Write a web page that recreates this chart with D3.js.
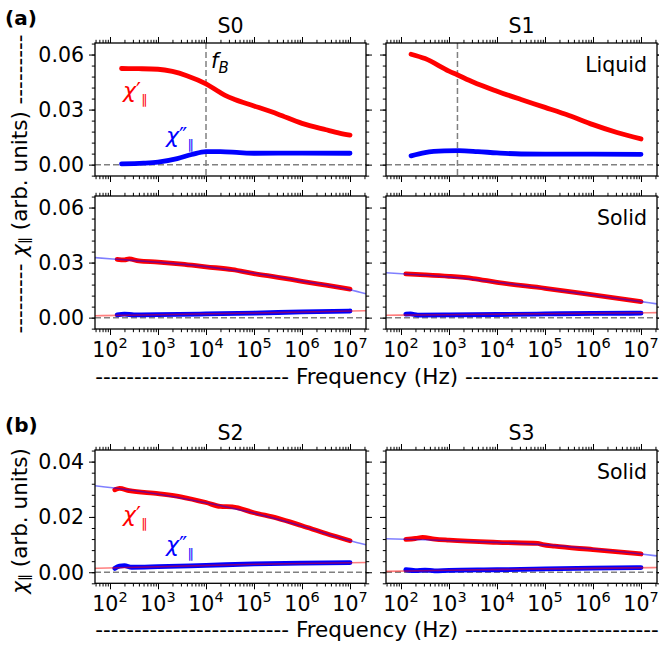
<!DOCTYPE html>
<html><head><meta charset="utf-8">
<script src="https://cdn.jsdelivr.net/npm/d3@7"></script>
<style>body{margin:0;background:#fff} text{font-family:"DejaVu Sans",sans-serif}</style>
</head><body><svg id="c" width="659" height="650"></svg>
<script>
// ---------------- DATA (frequency in Hz, chi in arb. units) ----------------
const xTickExponents = [2, 3, 4, 5, 6, 7];
const yTicksA = [0.00, 0.03, 0.06];
const yTicksB = [0.00, 0.02, 0.04];
const panelTitles = ["S0", "S1", "S2", "S3"];
const phaseLabels = ["Liquid", "Solid", "Solid"];
const fB_S0 = 1.0e4;
const fB_S1 = 1.5e3;

// S0 liquid
const s0LiqReal = [[174,0.0524],[398,0.0523],[1000,0.0520],[1995,0.0508],[3981,0.0485],[10000,0.0440],[19953,0.0392],[25000,0.0378],[39811,0.0355],[100000,0.0320],[316228,0.0275],[1000000,0.0225],[3162278,0.0190],[6000000,0.0172],[1e7,0.0161]];
const s0LiqImag = [[174,0.0004],[501,0.0008],[1000,0.0014],[2512,0.0033],[5012,0.0055],[10000,0.0071],[19953,0.0071],[50119,0.0065],[100000,0.0062],[1000000,0.0063],[1e7,0.0062]];
// S1 liquid
const s1LiqReal = [[162,0.0602],[316,0.0578],[1000,0.0510],[1479,0.0490],[3162,0.0450],[10000,0.0400],[31623,0.0355],[100000,0.0312],[316228,0.0268],[1000000,0.0218],[3162278,0.0175],[1e7,0.0140]];
const s1LiqImag = [[162,0.0048],[316,0.0066],[794,0.0075],[1585,0.0076],[3981,0.0071],[10000,0.0064],[31623,0.0058],[100000,0.0057],[1000000,0.0057],[1e7,0.0056]];
// S0 solid
const s0SolReal = [[141,0.0318],[200,0.0315],[251,0.0320],[398,0.0309],[1000,0.0303],[3162,0.0292],[10000,0.0277],[35481,0.0262],[100000,0.0240],[316228,0.0220],[1000000,0.0198],[3162278,0.0177],[1e7,0.0156]];
const s0SolImag = [[141,0.0015],[200,0.0019],[316,0.0015],[1000,0.0016],[10000,0.0020],[100000,0.0025],[1000000,0.0031],[1e7,0.0036]];
const s0SolRealFit = [[48.7,0.0327],[141,0.0318],[1000,0.0302],[10000,0.0278],[100000,0.0242],[1000000,0.0199],[1e7,0.0152],[2.15e7,0.0130]];
const s0SolImagFit = [[48.7,0.0010],[1000,0.0016],[100000,0.0025],[2.15e7,0.0038]];
// S1 solid
const s1SolReal = [[126,0.0238],[316,0.0233],[1000,0.0225],[3162,0.0213],[10000,0.0192],[100000,0.0160],[1000000,0.0124],[1e7,0.0087]];
const s1SolImag = [[126,0.0019],[158,0.0020],[224,0.0014],[1000,0.0015],[10000,0.0017],[100000,0.0020],[1000000,0.0023],[1e7,0.0024]];
const s1SolRealFit = [[48.7,0.0245],[126,0.0238],[1000,0.0222],[10000,0.0193],[100000,0.0159],[1000000,0.0123],[1e7,0.0087],[2.15e7,0.0075]];
const s1SolImagFit = [[48.7,0.0013],[1000,0.0016],[100000,0.0021],[2.15e7,0.0027]];
// S2 solid
const s2Real = [[126,0.0298],[158,0.0303],[251,0.0295],[1000,0.0284],[3162,0.0272],[10000,0.0252],[19953,0.0238],[35481,0.0236],[100000,0.0215],[316228,0.0195],[1000000,0.0168],[3162278,0.0140],[1e7,0.0114]];
const s2Imag = [[126,0.0014],[158,0.0022],[200,0.0024],[282,0.0018],[1000,0.0020],[10000,0.0025],[100000,0.0030],[1000000,0.0033],[1e7,0.0035]];
const s2RealFit = [[48.7,0.0313],[1000,0.0283],[10000,0.0251],[100000,0.0214],[1000000,0.0167],[1e7,0.0114],[2.15e7,0.0099]];
const s2ImagFit = [[48.7,0.0014],[1000,0.0020],[100000,0.0029],[2.15e7,0.0035]];
// S3 solid
const s3Real = [[126,0.0119],[200,0.0122],[282,0.0126],[501,0.0120],[1000,0.0116],[10000,0.0108],[70795,0.0104],[89125,0.0100],[158489,0.0094],[1000000,0.0082],[1e7,0.0066]];
const s3Imag = [[126,0.0009],[200,0.0006],[316,0.0008],[501,0.0005],[1000,0.0007],[10000,0.0009],[100000,0.0012],[1000000,0.0015],[1e7,0.0017]];
const s3RealFit = [[48.7,0.0121],[1000,0.0115],[10000,0.0108],[100000,0.0099],[1000000,0.0084],[1e7,0.0066],[2.15e7,0.0059]];
const s3ImagFit = [[48.7,0.0003],[1000,0.0007],[100000,0.0012],[2.15e7,0.0017]];

// ---------------- LAYOUT ----------------
const svg = d3.select("#c");
const COLS = [[95, 366], [386, 657]];
const ROWS = [[43, 176], [196, 329], [450, 583.3]];
const xDomain = [Math.pow(10, 1.6875), Math.pow(10, 7.333)];
const yDomA = [-0.0062, 0.0663];
const yDomB = [-0.004, 0.0442];
const RED = "#ff0000", BLUE = "#0000ff", GREY = "#808080";

const panels = [
  {c:0, r:0, title:panelTitles[0], real:s0LiqReal, imag:s0LiqImag, fB:fB_S0, yd:yDomA, yt:yTicksA, ystep:0.006},
  {c:1, r:0, title:panelTitles[1], real:s1LiqReal, imag:s1LiqImag, fB:fB_S1, tag:phaseLabels[0], yd:yDomA, yt:yTicksA, ystep:0.006},
  {c:0, r:1, real:s0SolReal, imag:s0SolImag, realFit:s0SolRealFit, imagFit:s0SolImagFit, yd:yDomA, yt:yTicksA, ystep:0.006, xl:true},
  {c:1, r:1, real:s1SolReal, imag:s1SolImag, realFit:s1SolRealFit, imagFit:s1SolImagFit, tag:phaseLabels[1], yd:yDomA, yt:yTicksA, ystep:0.006, xl:true},
  {c:0, r:2, title:panelTitles[2], real:s2Real, imag:s2Imag, realFit:s2RealFit, imagFit:s2ImagFit, yd:yDomB, yt:yTicksB, ystep:0.004, xl:true},
  {c:1, r:2, title:panelTitles[3], real:s3Real, imag:s3Imag, realFit:s3RealFit, imagFit:s3ImagFit, tag:phaseLabels[2], yd:yDomB, yt:yTicksB, ystep:0.004, xl:true}
];

const xMajor = xTickExponents.map(e => Math.pow(10, e));
const xMinor = [];
for (let k = 1; k <= 7; k++) for (let m = 2; m <= 9; m++) {
  const v = m * Math.pow(10, k);
  if (v >= xDomain[0] && v <= xDomain[1]) xMinor.push(v);
}

panels.forEach((p, i) => {
  const [x0, x1] = COLS[p.c], [y0, y1] = ROWS[p.r];
  const x = d3.scaleLog().domain(xDomain).range([x0, x1]);
  const y = d3.scaleLinear().domain(p.yd).range([y1, y0]);
  const g = svg.append("g");
  const clipId = "clip" + i;
  svg.append("clipPath").attr("id", clipId).append("rect")
    .attr("x", x0).attr("y", y0).attr("width", x1 - x0).attr("height", y1 - y0);
  const pg = g.append("g").attr("clip-path", `url(#${clipId})`);

  pg.append("line").attr("x1", x0).attr("x2", x1).attr("y1", y(0)).attr("y2", y(0))
    .attr("stroke", GREY).attr("stroke-width", 1.5).attr("stroke-dasharray", "6,3");
  if (p.fB) {
    pg.append("line").attr("x1", x(p.fB)).attr("x2", x(p.fB)).attr("y1", y0).attr("y2", y1)
      .attr("stroke", GREY).attr("stroke-width", 1.5).attr("stroke-dasharray", "6,3");
  }
  const line = d3.line().x(d => x(d[0])).y(d => y(d[1])).curve(d3.curveMonotoneX);
  const thick = (data, col) => pg.append("path").attr("d", line(data)).attr("fill", "none")
    .attr("stroke", col).attr("stroke-width", 4.8).attr("stroke-linecap", "round").attr("stroke-linejoin", "round");
  const thin = (data, col) => pg.append("path").attr("d", line(data)).attr("fill", "none")
    .attr("stroke", col).attr("stroke-width", 1.6).attr("stroke-opacity", 0.5);
  thick(p.real, RED);
  if (p.realFit) thin(p.realFit, BLUE);
  thick(p.imag, BLUE);
  if (p.imagFit) thin(p.imagFit, RED);

  const mk = (gen, tv, size) => gen.tickValues(tv).tickSize(size).tickFormat("");
  const addAxis = (axis, tr) => {
    const a = g.append("g").attr("transform", tr).call(axis);
    a.select(".domain").remove();
    a.selectAll("line").attr("stroke", "#000").attr("stroke-width", 1);
    return a;
  };
  addAxis(mk(d3.axisBottom(x), xMinor, 3.2), `translate(0,${y1})`);
  addAxis(mk(d3.axisTop(x), xMinor, 3.2), `translate(0,${y0})`);
  addAxis(mk(d3.axisBottom(x), xMajor, 6), `translate(0,${y1})`);
  addAxis(mk(d3.axisTop(x), xMajor, 6), `translate(0,${y0})`);
  const yMinor = d3.range(-10, 12).map(k => k * p.ystep).filter(v => v >= p.yd[0] && v <= p.yd[1]);
  addAxis(mk(d3.axisLeft(y), yMinor, 3.2), `translate(${x0},0)`);
  addAxis(mk(d3.axisRight(y), yMinor, 3.2), `translate(${x1},0)`);
  addAxis(mk(d3.axisLeft(y), p.yt, 6), `translate(${x0},0)`);
  addAxis(mk(d3.axisRight(y), p.yt, 6), `translate(${x1},0)`);

  g.append("rect").attr("x", x0).attr("y", y0).attr("width", x1 - x0).attr("height", y1 - y0)
    .attr("fill", "none").attr("stroke", "#000").attr("stroke-width", 1.3);

  if (p.c === 0) {
    p.yt.forEach(v => {
      g.append("text").attr("x", x0 - 11).attr("y", y(v)).attr("dy", "0.36em")
        .attr("text-anchor", "end").style("font-size", "20.5px").text(d3.format(".2f")(v));
    });
  }
  if (p.xl) {
    xTickExponents.forEach(e => {
      const t = g.append("text").attr("x", x(Math.pow(10, e))).attr("y", y1 + 28)
        .attr("text-anchor", "middle").style("font-size", "20.5px");
      t.append("tspan").text("10");
      t.append("tspan").attr("dy", -9).style("font-size", "14.5px").text(String(e));
    });
  }
  if (p.title) {
    g.append("text").attr("x", (x0 + x1) / 2).attr("y", y0 - 10).attr("text-anchor", "middle")
      .style("font-size", "20.5px").text(p.title);
  }
  if (p.tag) {
    g.append("text").attr("x", x1 - 10).attr("y", y0 + 29).attr("text-anchor", "end")
      .style("font-size", "20.5px").text(p.tag);
  }
});

// curve labels (chi' and chi'' with parallel subscript)
function chiLabel(x, y, primes, color) {
  const t = svg.append("text").attr("x", x).attr("y", y).attr("fill", color).style("font-size", "22px");
  t.append("tspan").style("font-style", "italic").text("χ");
  t.append("tspan").text(primes);
  t.append("tspan").attr("dy", 6).style("font-size", "13px").text("∥");
}
chiLabel(123, 98, "′", RED);
chiLabel(166, 143, "″", BLUE);
chiLabel(123, 522, "′", RED);
chiLabel(166, 552, "″", BLUE);

// f_B label
const fb = svg.append("text").attr("x", 211).attr("y", 68).style("font-size", "21px");
fb.append("tspan").style("font-style", "italic").text("f");
fb.append("tspan").attr("dy", 5).style("font-size", "15px").style("font-style", "italic").text("B");

// panel letters
svg.append("text").attr("x", 5).attr("y", 25).style("font-size", "20px").style("font-weight", "bold").text("(a)");
svg.append("text").attr("x", 5).attr("y", 432).style("font-size", "20px").style("font-weight", "bold").text("(b)");

// axis labels
const dashesX = "-".repeat(25);
const dashesY = "-".repeat(9);
[384, 637].forEach(yy => {
  svg.append("text").attr("x", 377).attr("y", yy).attr("text-anchor", "middle").style("font-size", "21.5px")
    .text(dashesX + " Frequency (Hz) " + dashesX);
});
function yLabel(cy, dashes) {
  const t = svg.append("text").attr("transform", `translate(19,${cy}) rotate(-90)`)
    .attr("text-anchor", "middle").attr("dominant-baseline", "central").style("font-size", "21.5px");
  t.append("tspan").text(dashes ? dashes + " " : "");
  t.append("tspan").style("font-style", "italic").text("χ");
  t.append("tspan").attr("dy", 5).style("font-size", "14px").text("∥");
  t.append("tspan").attr("dy", -5).text(" (arb. units)" + (dashes ? " " + dashes : ""));
}
yLabel(184, dashesY);
yLabel(521, null);
</script></body></html>
